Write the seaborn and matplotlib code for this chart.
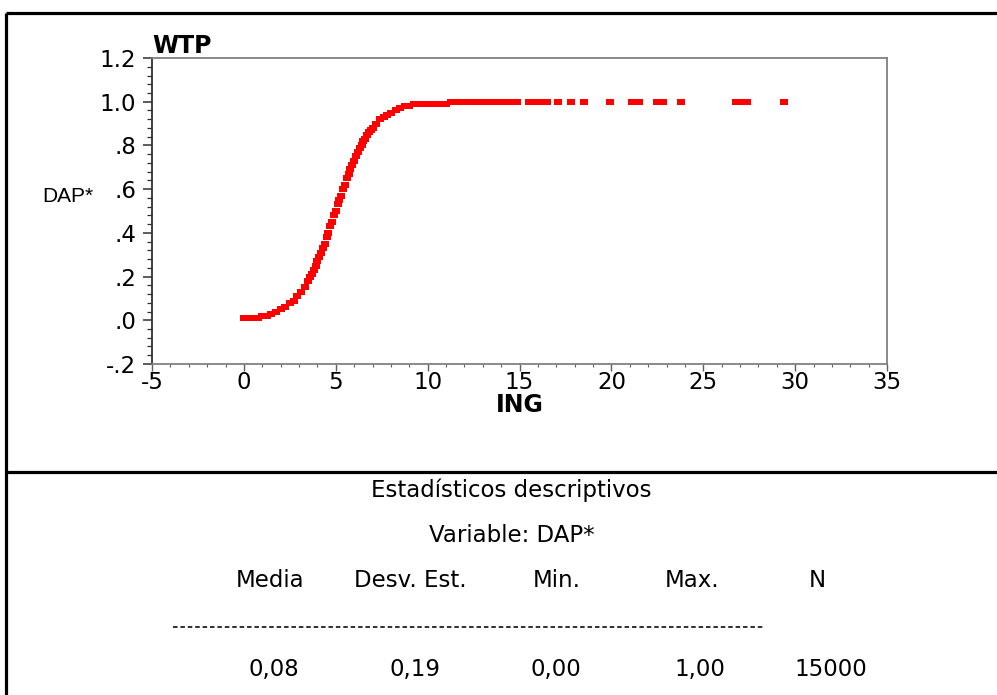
import pandas as pd
import matplotlib
matplotlib.use("Agg")
import matplotlib.pyplot as plt
from matplotlib.lines import Line2D
from matplotlib.ticker import MultipleLocator
import seaborn as sns

# values
ing = [0.0, 0.25, 0.5, 0.75, 1.0, 1.25, 1.5, 1.75, 2.0, 2.25, 2.5, 2.7, 2.9, 3.1, 3.3,
       3.5, 3.6, 3.7, 3.8, 3.9, 4.0, 4.1, 4.2, 4.3, 4.4, 4.5, 4.6, 4.7, 4.8, 4.9,
       5.0, 5.1, 5.2, 5.3, 5.4, 5.5, 5.6, 5.7, 5.8, 5.9, 6.0, 6.1, 6.2, 6.3, 6.4,
       6.5, 6.6, 6.7, 6.8, 6.9, 7.0, 7.2, 7.4, 7.6, 7.8, 8.0, 8.25, 8.5, 8.75, 9.0,
       9.25, 9.5, 9.75, 10.0,
       10.25, 10.5, 10.75, 11.0, 11.25, 11.5, 11.75, 12.0, 12.25, 12.5, 12.75, 13.0,
       13.25, 13.5, 13.75, 14.0, 14.25, 14.45, 14.85, 15.5, 15.9, 16.2, 16.5, 17.1,
       17.8, 18.5, 19.9, 21.1, 21.5, 22.5, 22.8, 23.8, 26.8, 27.1, 27.4, 29.4]
dap = [0.01, 0.01, 0.01, 0.01, 0.02, 0.02, 0.03, 0.04, 0.05, 0.06, 0.08, 0.09, 0.11, 0.13, 0.15,
       0.18, 0.20, 0.21, 0.23, 0.25, 0.27, 0.29, 0.31, 0.33, 0.35, 0.38, 0.40, 0.43, 0.45, 0.48,
       0.50, 0.53, 0.55, 0.57, 0.60, 0.62, 0.65, 0.67, 0.69, 0.71, 0.73, 0.75, 0.77, 0.79, 0.80,
       0.82, 0.83, 0.85, 0.86, 0.87, 0.88, 0.90, 0.92, 0.93, 0.94, 0.95, 0.96, 0.97, 0.98, 0.98,
       0.99, 0.99, 0.99, 0.99,
       0.99, 0.99, 0.99, 0.99, 1.00, 1.00, 1.00, 1.00, 1.00, 1.00, 1.00, 1.00,
       1.00, 1.00, 1.00, 1.00, 1.00, 1.00, 1.00, 1.00, 1.00, 1.00, 1.00, 1.00,
       1.00, 1.00, 1.00, 1.00, 1.00, 1.00, 1.00, 1.00, 1.00, 1.00, 1.00, 1.00]

y_ticks = [-0.2, 0.0, 0.2, 0.4, 0.6, 0.8, 1.0, 1.2]
y_labels = ["-.2", ".0", ".2", ".4", ".6", ".8", "1.0", "1.2"]
x_ticks = [-5, 0, 5, 10, 15, 20, 25, 30, 35]

stat_names = ["Media", "Desv. Est.", "Min.", "Max.", "N"]
stat_values = ["0,08", "0,19", "0,00", "1,00", "15000"]

df = pd.DataFrame({"ING": ing, "DAP": dap})

sns.set_theme(style="white")
plt.rcParams["font.family"] = ["DejaVu Sans"]
plt.rcParams["axes.unicode_minus"] = False
plt.rcParams["text.color"] = "black"
plt.rcParams["axes.labelcolor"] = "black"

fig = plt.figure(figsize=(9.97, 6.95), dpi=100)
ax = fig.add_axes([0.1525, 0.4763, 0.7372, 0.4402])

# small red rectangles, a bit wider than tall
rect = [(-0.8, -0.55), (0.8, -0.55), (0.8, 0.55), (-0.8, 0.55)]
sns.scatterplot(data=df, x="ING", y="DAP", color="#ff0000", marker=rect, s=38,
                linewidth=0, ax=ax, zorder=3)

ax.set_xlim(-5, 35)
ax.set_ylim(-0.2, 1.2)
ax.set_xticks(x_ticks)
ax.set_yticks(y_ticks, labels=y_labels)
ax.xaxis.set_minor_locator(MultipleLocator(1))
ax.yaxis.set_minor_locator(MultipleLocator(0.04))

for side in ["top", "right", "bottom"]:
    ax.spines[side].set_color("#808080")
    ax.spines[side].set_linewidth(1.3)
ax.spines["left"].set_color("#303030")
ax.spines["left"].set_linewidth(1.3)

ax.tick_params(axis="both", which="both", direction="out", bottom=True, left=True,
               labelsize=16.5, labelcolor="black")
ax.tick_params(axis="y", which="major", length=6.5, width=1.1, color="#303030", pad=5)
ax.tick_params(axis="y", which="minor", length=3.5, width=0.9, color="#303030")
ax.tick_params(axis="x", which="major", length=5, width=1.0, color="#606060", pad=0)
ax.tick_params(axis="x", which="minor", length=2.5, width=0.8, color="#606060")

ax.set_xlabel("ING", fontsize=17, fontweight="bold", labelpad=-1)
ax.set_ylabel("DAP*", fontsize=15, family="Liberation Sans", rotation=0,
              ha="center", va="center")
ax.yaxis.set_label_coords(-0.114, 0.546)
ax.set_title("WTP", loc="left", fontsize=17, fontweight="bold", pad=3)

# frame lines of the output panel
for xs, ys in [([0.006, 1.0], [0.981, 0.981]),
               ([0.006, 0.006], [0.0, 0.981]),
               ([0.006, 1.0], [0.321, 0.321])]:
    fig.add_artist(Line2D(xs, ys, color="black", linewidth=2.3,
                          transform=fig.transFigure, solid_capstyle="butt"))

# descriptive statistics block
fig.text(0.513, 0.295, "Estadísticos descriptivos", ha="center", va="center", fontsize=16.5)
fig.text(0.513, 0.230, "Variable: DAP*", ha="center", va="center", fontsize=16.5)
name_x = [0.271, 0.412, 0.558, 0.694, 0.820]
value_x = [0.275, 0.416, 0.558, 0.702, 0.833]
for x, t in zip(name_x, stat_names):
    fig.text(x, 0.165, t, ha="center", va="center", fontsize=16.5)
for x, t in zip(value_x, stat_values):
    fig.text(x, 0.036, t, ha="center", va="center", fontsize=16.5)
fig.add_artist(Line2D([0.174, 0.765], [0.098, 0.098], color="#202020", linewidth=1.3,
                      dashes=(2.5, 1.6), transform=fig.transFigure))

fig.savefig("out.png", dpi=100)
